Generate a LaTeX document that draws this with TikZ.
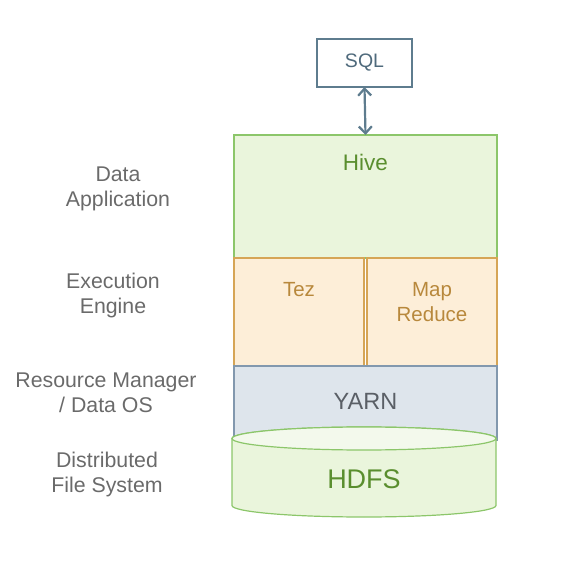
\documentclass[tikz,border=0pt]{standalone}
\usepackage{fontspec}
\setmainfont{Liberation Sans}
\usetikzlibrary{arrows.meta}
\definecolor{grnfill}{HTML}{EAF5DC}
\definecolor{grntop}{HTML}{F3F9EC}
\definecolor{grnline}{HTML}{8CC66A}
\definecolor{grntext}{HTML}{5A8E2E}
\definecolor{orfill}{HTML}{FDEED8}
\definecolor{orline}{HTML}{D6A556}
\definecolor{ortext}{HTML}{B8883C}
\definecolor{blfill}{HTML}{DEE5EC}
\definecolor{blline}{HTML}{8298AE}
\definecolor{bltext}{HTML}{5A5F66}
\definecolor{sqlline}{HTML}{5E7C8E}
\definecolor{sqltext}{HTML}{4F6A7C}
\definecolor{labtext}{HTML}{6A6A6A}
\tikzset{
  layerbox/.style={draw, line width=1.2pt, inner sep=0pt, outer sep=0pt},
  sidelabel/.style={text=labtext, align=center, font=\fontsize{21.3}{25}\selectfont},
  barb/.tip={Straight Barb[length=7pt,width=13pt,line width=2.2pt]},
}
\begin{document}
\begin{tikzpicture}[x=1pt,y=-1pt]
\useasboundingbox (0,0) rectangle (568,561);
% SQL
\node[layerbox, draw=sqlline, fill=white, minimum width=95pt, minimum height=48pt, text=sqltext, font=\fontsize{19.5}{22}\selectfont] (sql) at (364.5,63) {SQL};
% Hive
\node[layerbox, draw=grnline, fill=grnfill, minimum width=263pt, minimum height=123pt] (hive) at (365.5,196.5) {};
\node[text=grntext, font=\fontsize{22.5}{26}\selectfont] (hivet) at (365.5,162) {Hive};
% Tez / MapReduce
\node[layerbox, draw=orline, fill=orfill, minimum width=130pt, minimum height=108pt] (tez) at (299,312) {};
\node[layerbox, draw=orline, fill=orfill, minimum width=130pt, minimum height=108pt] (mr) at (432,312) {};
\node[text=ortext, font=\fontsize{20.5}{25}\selectfont] (tezt) at (299,290) {Tez};
\node[text=ortext, align=center, font=\fontsize{20.5}{25}\selectfont] (mrt) at (432,302.5) {Map\\Reduce};
% YARN
\node[layerbox, draw=blline, fill=blfill, minimum width=263pt, minimum height=74pt] (yarn) at (365.5,403) {};
\node[text=bltext, font=\fontsize{23.5}{27}\selectfont] (yarnt) at (365.5,401) {YARN};
% HDFS cylinder
\path[draw=grnline, fill=grnfill, line width=1.2pt] (232,438.5) -- (232,505.5) arc[start angle=180, end angle=0, x radius=132pt, y radius=-11.5pt] -- (496,438.5) arc[start angle=0, end angle=-180, x radius=132pt, y radius=-11.5pt] -- cycle;
\path[draw=grnline, fill=grntop, line width=1.2pt] (364,438.5) ellipse[x radius=132pt, y radius=11.5pt];
\node[text=grntext, font=\fontsize{27}{31}\selectfont] (hdfs) at (364,479) {HDFS};
% arrow
\draw[sqlline, line width=2.2pt, barb-barb] (sql.south) -- (hive.north);
% side labels
\node[sidelabel] (l1) at (118,188.5) {Data\\Application};
\node[sidelabel] (l2) at (113,295.5) {Execution\\Engine};
\node[sidelabel] (l3) at (106,393) {Resource Manager\\/ Data OS};
\node[sidelabel] (l4) at (107,474.5) {Distributed\\File System};
\end{tikzpicture}
\end{document}
